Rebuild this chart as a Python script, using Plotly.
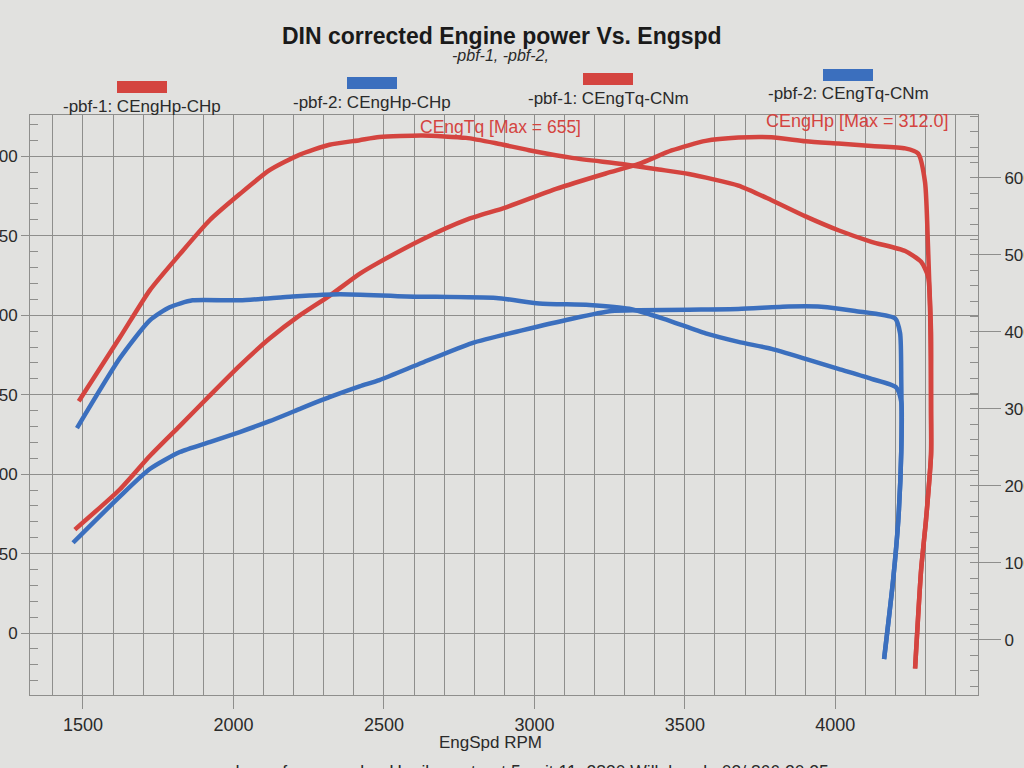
import plotly.graph_objects as go

# ---- data ----
hp1_rpm = [1473, 1623, 1722, 1822, 1921, 2021, 2120, 2219, 2319, 2419, 2485, 2627, 2773, 2906, 3072,
           3237, 3347, 3456, 3569, 3678, 3788, 3901, 4010, 4120, 4232, 4275, 4298, 4308, 4315, 4318,
           4318, 4301, 4285, 4265]
hp1_val = [65.1, 90.5, 111.4, 130.4, 149.4, 168.3, 185.3, 199.7, 212.2, 226.0, 233.4, 247.7, 260.0,
           267.9, 279.5, 289.2, 295.2, 303.7, 309.7, 311.8, 312.0, 309.5, 308.0, 306.5, 305.0, 301.8,
           283.8, 242.8, 201.2, 139.1, 112.4, 70.7, 39.7, -22.4]

tq1_rpm = [1486, 1623, 1722, 1822, 1921, 2021, 2120, 2219, 2319, 2419, 2485, 2627, 2773, 2873, 2982,
           3125, 3291, 3413, 3513, 3678, 3788, 3901, 4010, 4120, 4232, 4285, 4308, 4318, 4318, 4318,
           4301, 4285, 4265]
tq1_val = [310, 393, 454, 501, 545, 579, 610, 630, 643, 649, 653, 655, 652, 645, 636, 626, 618, 611,
           605, 590, 571, 550, 532, 517, 505, 491, 472, 399, 296, 241, 155, 91, -37]

hp2_rpm = [1467, 1623, 1722, 1822, 1921, 2021, 2120, 2219, 2319, 2419, 2485, 2627, 2793, 2959, 3125,
           3257, 3347, 3513, 3678, 3844, 3953, 4066, 4198, 4215, 4219, 4219, 4209, 4192, 4162]
hp2_val = [56.8, 86.0, 103.2, 113.9, 120.2, 126.5, 133.3, 140.9, 148.4, 155.2, 159.2, 170.1, 182.5,
           190.5, 197.8, 202.6, 203.1, 203.5, 203.9, 205.5, 205.4, 202.7, 198.1, 188.8, 159.6, 114.2,
           70.7, 33.4, -16.3]

tq2_rpm = [1480, 1623, 1722, 1788, 1864, 2021, 2197, 2353, 2575, 2873, 3016, 3182, 3315, 3430, 3569,
           3678, 3788, 3901, 4010, 4120, 4202, 4219, 4219, 4209, 4192, 4162]
tq2_val = [275, 366, 415, 432, 441, 441, 446, 449, 446, 444, 437, 435, 430, 417, 398, 387, 378, 365,
           352, 339, 328, 309, 245, 155, 78, -25]

legend_names = ["-pbf-1: CEngHp-CHp", "-pbf-2: CEngHp-CHp", "-pbf-1: CEngTq-CNm", "-pbf-2: CEngTq-CNm"]
x_ticks = [1500, 2000, 2500, 3000, 3500, 4000]
hp_ticks = [0, 50, 100, 150, 200, 250, 300]
tq_ticks = [0, 100, 200, 300, 400, 500, 600]

RED = "#d4443f"
BLUE = "#3b6fbe"
BG = "#e1e1df"
GRID = "#8e8e8c"
TXT = "#2a2a2a"
NARROW = "Liberation Sans Narrow, Arial Narrow, Liberation Sans, Arial, sans-serif"
SANS = "Liberation Sans, Arial, sans-serif"

fig = go.Figure()
fig.add_trace(go.Scatter(x=hp2_rpm, y=hp2_val, mode="lines", name=legend_names[1],
                         line=dict(color=BLUE, width=4.5, shape="spline", smoothing=0.6), yaxis="y"))
fig.add_trace(go.Scatter(x=tq2_rpm, y=tq2_val, mode="lines", name=legend_names[3],
                         line=dict(color=BLUE, width=4.5, shape="spline", smoothing=0.6), yaxis="y2"))
fig.add_trace(go.Scatter(x=hp1_rpm, y=hp1_val, mode="lines", name=legend_names[0],
                         line=dict(color=RED, width=4.5, shape="spline", smoothing=0.6), yaxis="y"))
fig.add_trace(go.Scatter(x=tq1_rpm, y=tq1_val, mode="lines", name=legend_names[2],
                         line=dict(color=RED, width=4.5, shape="spline", smoothing=0.6), yaxis="y2"))

L, R, T, B = 30, 46, 115, 73
W, H = 1024, 768
PW, PH = W - L - R, H - T - B


def px(x):
    return (x - L) / PW


def py(y):
    return (H - B - y) / PH


def txt(x, y, text, size, color=TXT, family=NARROW):
    return dict(x=px(x), y=py(y), xref="paper", yref="paper", showarrow=False,
                xanchor="center", yanchor="middle", text=text,
                font=dict(family=family, size=size, color=color))


annos = [
    txt(502, 36, "<b>DIN corrected Engine power Vs. Engspd</b>", 23, "#1a1a1a"),
    txt(500, 56, "<i>-pbf-1, -pbf-2,</i>", 16),
]

leg_cols = [RED, BLUE, RED, BLUE]
leg_cx = [142, 372, 608, 848]
leg_ty = [106, 102, 98, 94]
shapes = []
for name, col, cx, ty in zip(legend_names, leg_cols, leg_cx, leg_ty):
    annos.append(txt(cx, ty, name, 17))
    shapes.append(dict(type="rect", xref="paper", yref="paper",
                       x0=px(cx - 25), x1=px(cx + 25), y0=py(ty - 13), y1=py(ty - 25),
                       fillcolor=col, line=dict(width=0)))

annos.append(txt(500, 127, "CEngTq [Max = 655]", 17.5, RED))
annos.append(txt(857, 121, "CEngHp [Max = 312.0]", 18, RED))
annos.append(txt(490, 742, "EngSpd RPM", 17))
annos.append(txt(508, 772, "www.dyxperformance.be  Hoeikensstraat 5 unit 11, 2830 Willebroek, 03/ 866 20 25", 17.5))

fig.update_layout(
    width=W, height=H,
    margin=dict(l=L, r=R, t=T, b=B, autoexpand=False),
    paper_bgcolor=BG, plot_bgcolor=BG,
    showlegend=False,
    annotations=annos,
    shapes=shapes,
    xaxis=dict(range=[1324, 4474], tickvals=x_ticks, ticktext=[str(v) for v in x_ticks],
               showgrid=True, gridcolor=GRID, gridwidth=1,
               minor=dict(dtick=100, tick0=0, showgrid=True, gridcolor=GRID, gridwidth=1, ticks=""),
               ticks="outside", ticklen=13, tickcolor=GRID, showline=True, linecolor=GRID,
               mirror=True, zeroline=False, automargin=False,
               tickfont=dict(family=NARROW, size=18, color=TXT)),
    yaxis=dict(range=[-39, 326], tickvals=hp_ticks, ticktext=[str(v) for v in hp_ticks],
               showgrid=True, gridcolor=GRID, gridwidth=1,
               minor=dict(dtick=10, tick0=0, ticks="inside", ticklen=8, tickcolor=GRID, showgrid=False),
               ticks="outside", ticklen=8, tickcolor=GRID, showline=True, linecolor=GRID,
               mirror=True, zeroline=False, automargin=False,
               tickfont=dict(family=SANS, size=17, color=TXT)),
    yaxis2=dict(range=[-71.6, 681.7], overlaying="y", side="right",
                tickvals=tq_ticks, ticktext=[str(v) for v in tq_ticks],
                showgrid=False,
                minor=dict(dtick=20, tick0=0, ticks="inside", ticklen=8, tickcolor=GRID, showgrid=False),
                ticks="outside", ticklen=22, tickcolor=GRID, showline=False,
                zeroline=False, automargin=False,
                tickfont=dict(family=SANS, size=17, color=TXT)),
)

fig.write_html("out.html")
